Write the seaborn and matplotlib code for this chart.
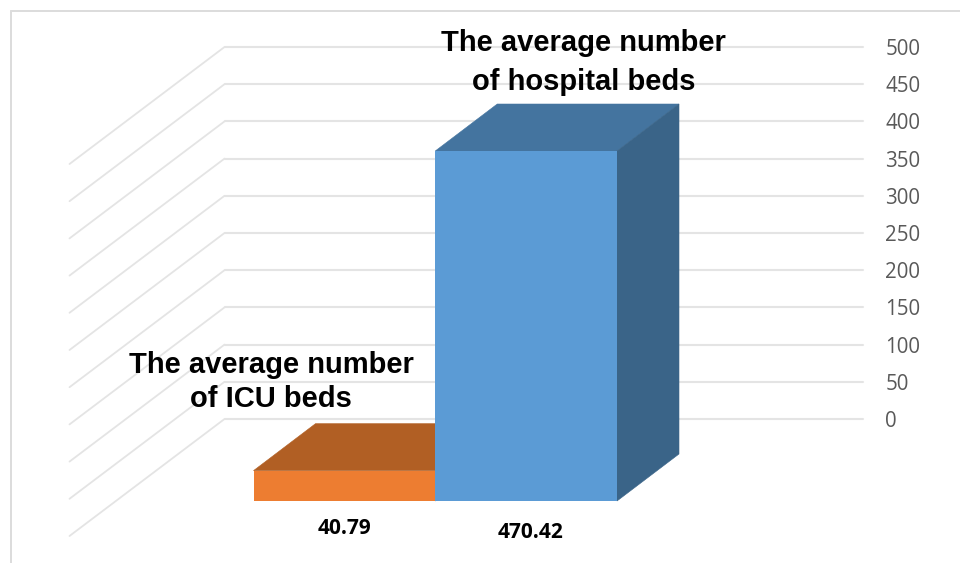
import matplotlib
matplotlib.use("Agg")
import matplotlib.pyplot as plt
from matplotlib.lines import Line2D
from matplotlib.patches import Polygon
import pandas as pd
import seaborn as sns

# Chart data
categories = ["The average number\nof ICU beds", "The average number\nof hospital beds"]
values = [40.79, 470.42]
axis_ticks = [0, 50, 100, 150, 200, 250, 300, 350, 400, 450, 500]

# Styling
front_colors = ["#ED7D31", "#5B9BD5"]
top_colors = ["#B15F24", "#44749F"]
side_colors = ["#8F4D1D", "#3A6488"]
grid_color = "#E4E4E4"
frame_color = "#DCDCDC"
tick_color = "#595959"

W, H = 960, 563
sns.set_theme(style="white")
plt.rcParams["font.family"] = ["Open Sans", "DejaVu Sans"]


def axes_rect(left, right, top, bottom):
    """Axes rectangle in figure fractions from pixel edges measured from the top-left."""
    return [left / W, 1 - bottom / H, (right - left) / W, (bottom - top) / H]


fig = plt.figure(figsize=(W / 100, H / 100), dpi=100, facecolor="white")

# Back wall: value gridlines and the axis labels on the right
wall = fig.add_axes(axes_rect(224.5, 862.5, 47, 419))
wall.set_xlim(0, 1)
wall.set_ylim(0, 500)
wall.set_xticks([])
wall.set_yticks(axis_ticks)
wall.yaxis.tick_right()
wall.tick_params(axis="y", length=0, pad=16.5, labelsize=14.8, labelcolor=tick_color)
wall.grid(axis="y", color=grid_color, linewidth=1.5, clip_on=False)
wall.set_axisbelow(True)
sns.despine(ax=wall, left=True, right=True, top=True, bottom=True)

# Floor and side-wall lines running forward from each gridline
floor_dx, floor_dy = 155 / 638, 117 / 0.744
for tick in axis_ticks:
    wall.plot([0, -floor_dx], [tick, tick - floor_dy], color=grid_color,
              linewidth=1.3, clip_on=False, solid_capstyle="round")

# Front plane: the bars themselves
front = fig.add_axes(axes_rect(253.5, 617, 129, 501))
front.patch.set_alpha(0)
data = pd.DataFrame({"category": categories, "value": values})
sns.barplot(data=data, x="category", y="value", hue="category", order=categories,
            hue_order=categories, palette=front_colors, width=1, saturation=1,
            legend=False, ax=front)
front.set_xlim(-0.5, 1.5)
front.set_ylim(0, 500)
front.axis("off")

# Top and side faces extruded backward from each bar
depth_x, depth_y = 62 / 181.75, 47 / 0.744
for bar, top_c, side_c in zip(front.patches, top_colors, side_colors):
    x0, x1, h = bar.get_x(), bar.get_x() + bar.get_width(), bar.get_height()
    bar.set_edgecolor("none")
    front.add_patch(Polygon([(x0, h), (x1, h), (x1 + depth_x, h + depth_y), (x0 + depth_x, h + depth_y)],
                            facecolor=top_c, edgecolor=top_c, linewidth=0.4, clip_on=False, zorder=0.5))
    front.add_patch(Polygon([(x1, 0), (x1 + depth_x, depth_y), (x1 + depth_x, h + depth_y), (x1, h)],
                            facecolor=side_c, edgecolor=side_c, linewidth=0.4, clip_on=False, zorder=0.5))

# Value labels below the bars and category captions beside them
arial = ["Liberation Sans", "DejaVu Sans"]
caption_pos = [(271, 382), (583.5, 62.5)]
spacing = [1.25, 1.5]
value_pos = [(344.5, 529), (531, 532)]
for name, val, (cx, cy), (vx, vy), ls in zip(categories, values, caption_pos, value_pos, spacing):
    fig.text(cx / W, 1 - cy / H, name, ha="center", va="center", family=arial,
             fontweight="bold", fontsize=21, color="black", linespacing=ls)
    fig.text(vx / W, 1 - vy / H, f"{val:.2f}", ha="center", va="center",
             fontweight="bold", fontsize=15, color="black")

# Thin frame along the top and left edges
fig.add_artist(Line2D([11 / W, 1], [1 - 11 / H, 1 - 11 / H], color=frame_color, linewidth=1.4))
fig.add_artist(Line2D([11 / W, 11 / W], [1 - 11 / H, 0], color=frame_color, linewidth=1.4))

fig.savefig("out.png", dpi=100)
